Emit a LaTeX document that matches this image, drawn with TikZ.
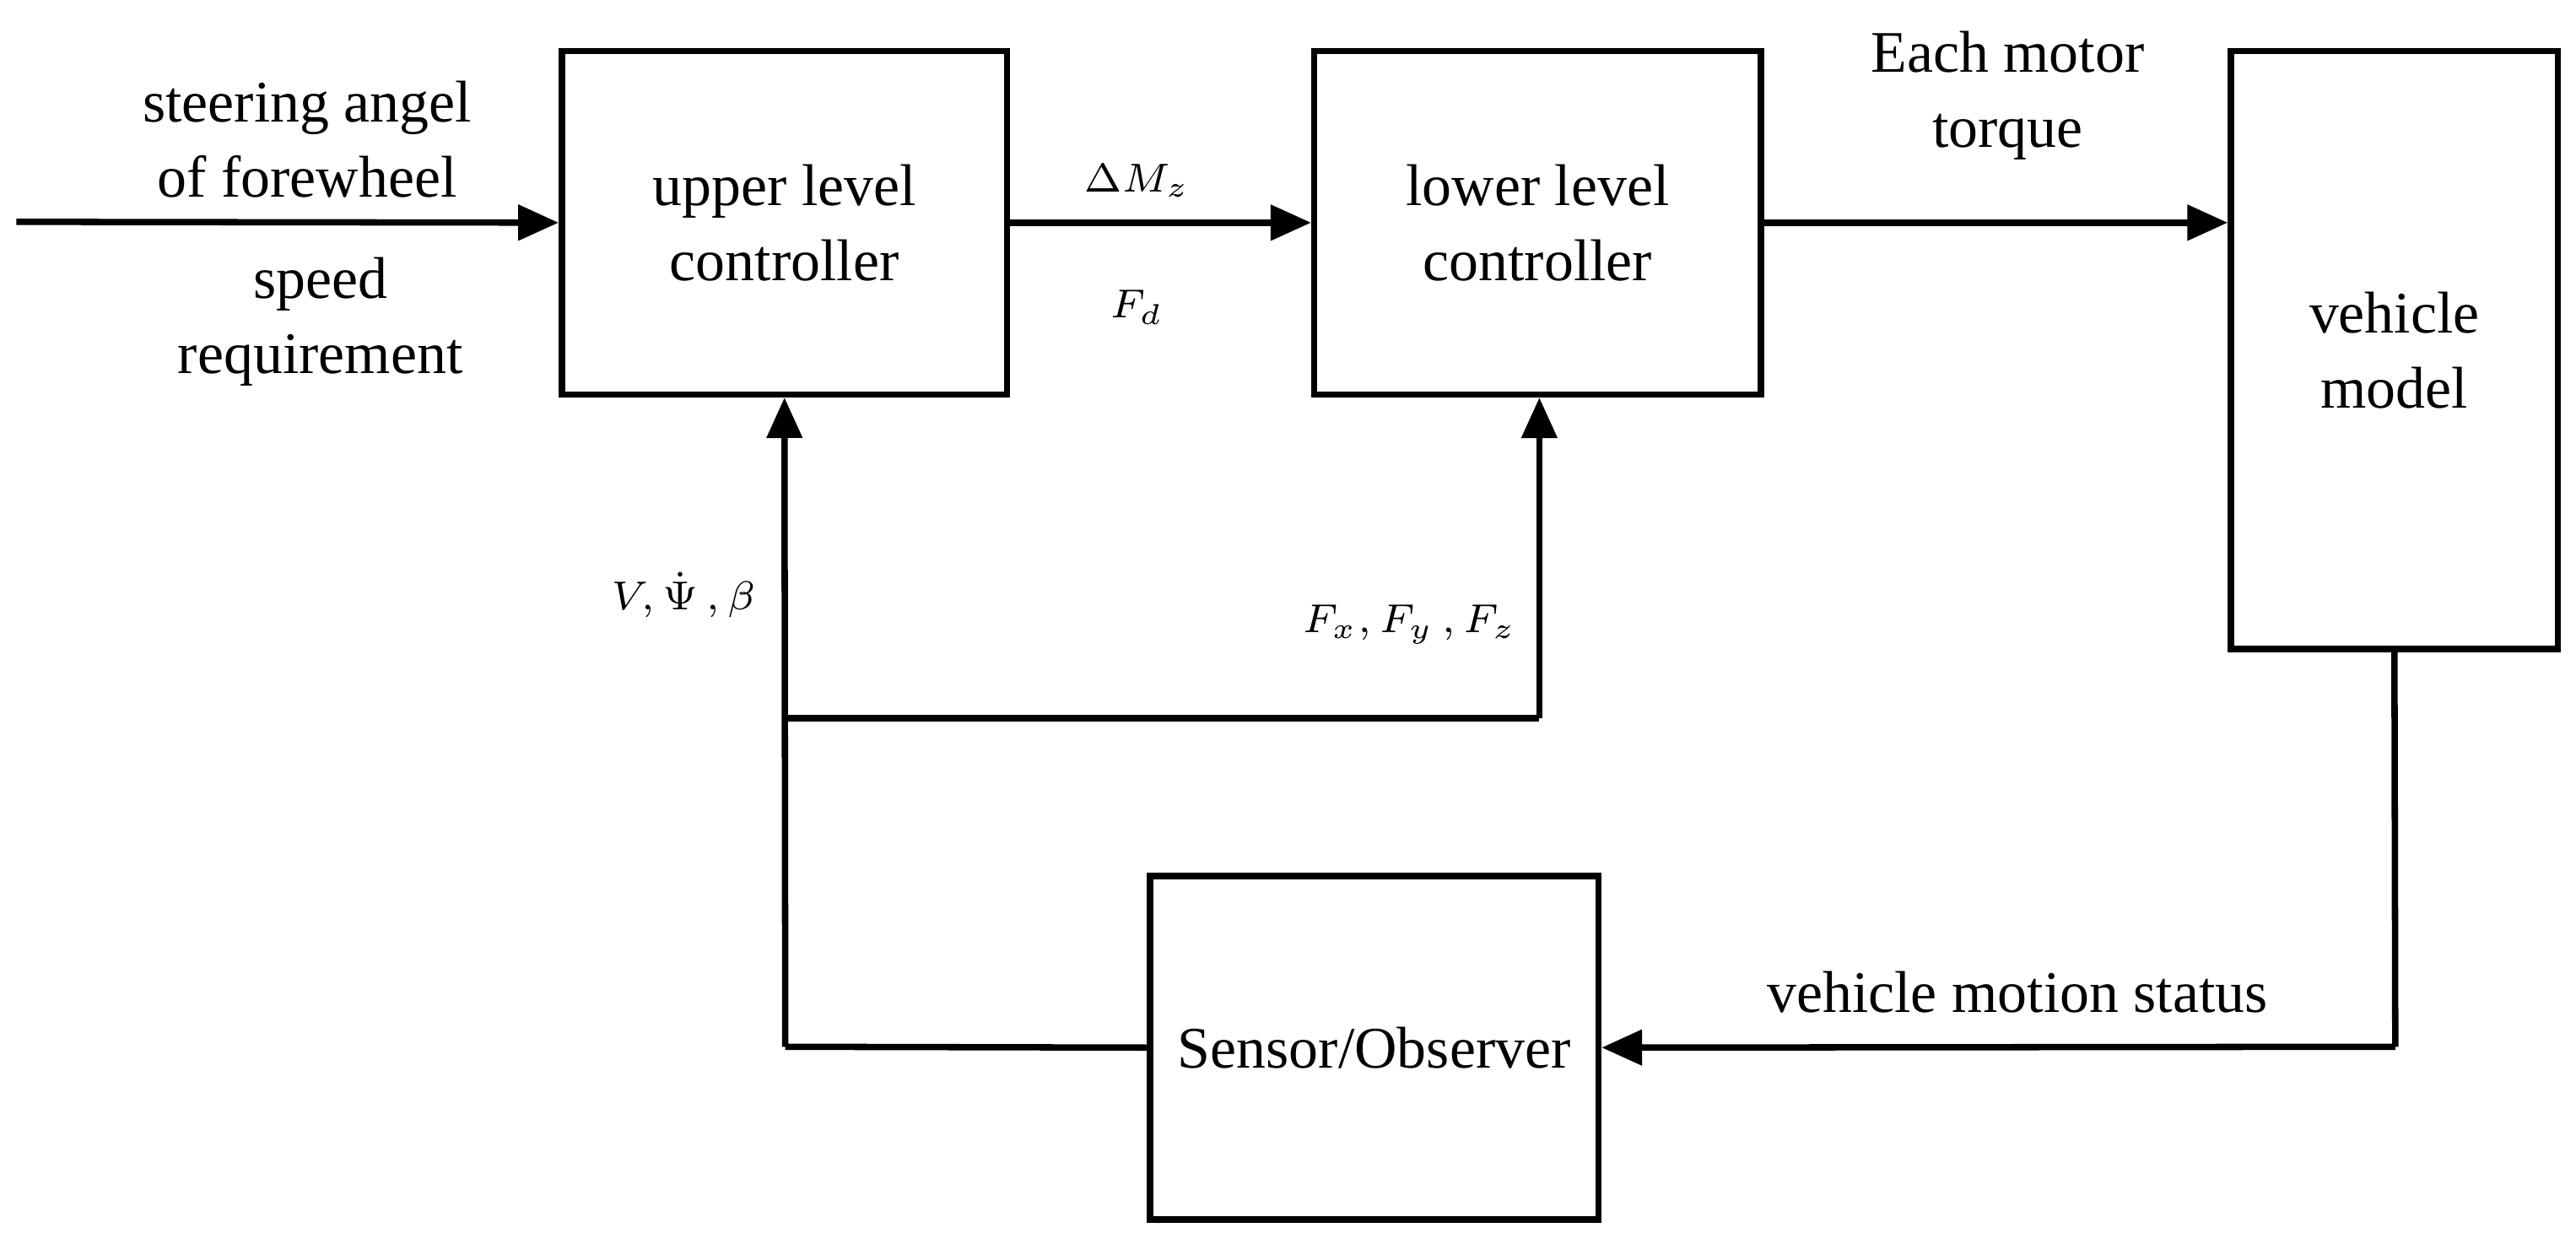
\documentclass[tikz,border=0pt]{standalone}
\usepackage{fontspec}
\setmainfont{Liberation Serif}
\usetikzlibrary{arrows.meta}
\begin{document}
\begin{tikzpicture}[x=0.01cm,y=-0.01cm,
  blk/.style={draw,line width=1.1pt,inner sep=0},
  ln/.style={line width=1.1pt},
  ar/.style={ln,-{Triangle[length=7pt,width=6pt]}},
  txt/.style={font=\fontsize{10.2}{13}\selectfont,align=center},
  mth/.style={font=\fontsize{7.5}{9}\selectfont}]
\useasboundingbox (0,0) rectangle (1568,757);
\node[blk,minimum width=271*0.01cm,minimum height=209*0.01cm] (up) at (477.5,135.5) {};
\node[txt] at (up) {upper level\\controller};
\node[blk,minimum width=272*0.01cm,minimum height=209*0.01cm] (lo) at (936,135.5) {};
\node[txt] at (lo) {lower level\\controller};
\node[blk,minimum width=199*0.01cm,minimum height=364*0.01cm] (veh) at (1457.5,213) {};
\node[txt] at (veh) {vehicle\\model};
\node[blk,minimum width=273*0.01cm,minimum height=209*0.01cm] (sen) at (836.5,637.5) {};
\node[txt] at (sen) {Sensor/Observer};
\coordinate (in) at (10,135);
\coordinate (c1) at (1458,637);
\coordinate (c2) at (478,637);
\coordinate (br) at (478,437);
\coordinate (c3) at (937,437);
\draw[ar] (in) -- (up.west);
\draw[ar] (up.east) -- (lo.west);
\draw[ar] (lo.east) -- (lo.east -| veh.west);
\draw[ln] (veh.south) -- (c1);
\draw[ar] (c1) -- (sen.east);
\draw[ln] (sen.west) -- (c2);
\draw[ar] (c2) -- (up.south);
\draw[ln] (br) -- (c3);
\draw[ar] (c3) -- (c3 |- lo.south);
\node[txt] (t1) at (187,85) {steering angel\\of forewheel};
\node[txt] (t2) at (195,196) {speed\\requirement};
\node[mth] (t3) at (692,110) {$\Delta M_z$};
\node[mth] (t4) at (692,187) {$F_d$};
\node[txt] (t5) at (1222,58) {Each motor\\torque};
\node[mth] (t6) at (416,362) {$V,\dot{\Psi}\,,\beta$};
\node[mth] (t7) at (858,380) {$F_x,F_y\,,F_z$};
\node[txt] (t8) at (1228,604) {vehicle motion status};
\end{tikzpicture}
\end{document}
